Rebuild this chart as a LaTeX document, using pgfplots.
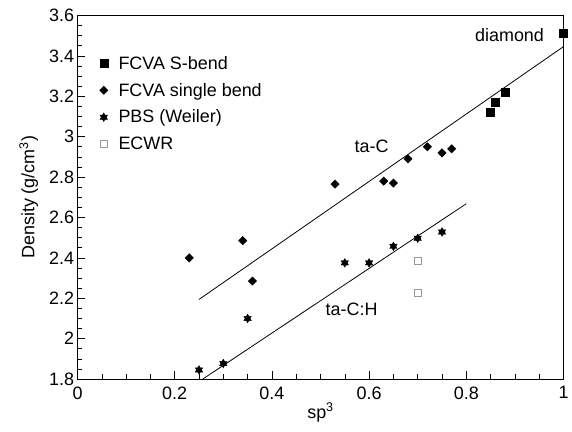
\documentclass[border=0pt]{standalone}
\usepackage{pgfplots}
\pgfplotsset{compat=1.18}
\usepackage{fontspec}
\setmainfont{Liberation Sans}
\pgfdeclareplotmark{hexstar}{%
 \pgfpathmoveto{\pgfqpointpolar{90}{\pgfplotmarksize}}%
 \pgfpathlineto{\pgfqpointpolar{210}{\pgfplotmarksize}}%
 \pgfpathlineto{\pgfqpointpolar{330}{\pgfplotmarksize}}%
 \pgfpathclose
 \pgfpathmoveto{\pgfqpointpolar{270}{\pgfplotmarksize}}%
 \pgfpathlineto{\pgfqpointpolar{30}{\pgfplotmarksize}}%
 \pgfpathlineto{\pgfqpointpolar{150}{\pgfplotmarksize}}%
 \pgfpathclose
 \pgfusepathqfillstroke}
\pgfdeclareplotmark{rdiamond}{%
 \pgfpathmoveto{\pgfqpoint{0pt}{\pgfplotmarksize}}%
 \pgfpathlineto{\pgfqpoint{\pgfplotmarksize}{0pt}}%
 \pgfpathlineto{\pgfqpoint{0pt}{-\pgfplotmarksize}}%
 \pgfpathlineto{\pgfqpoint{-\pgfplotmarksize}{0pt}}%
 \pgfpathclose
 \pgfusepathqfillstroke}
\begin{document}
\begin{tikzpicture}
\useasboundingbox (-77.5bp,-53bp) rectangle (494.5bp,379bp);
\begin{axis}[
  at={(0,0)}, anchor=south west,
  scale only axis, width=486bp, height=363.5bp,
  xmin=0, xmax=1, ymin=1.8, ymax=3.6,
  xtick={0,0.2,0.4,0.6,0.8,1},
  ytick={1.8,2,2.2,2.4,2.6,2.8,3,3.2,3.4,3.6},
  xticklabels={0,0.2,0.4,0.6,0.8,1},
  yticklabels={1.8,2,2.2,2.4,2.6,2.8,3,3.2,3.4,3.6},
  minor x tick num=3, minor y tick num=3,
  xtick pos=bottom, ytick pos=left,
  tick align=inside,
  major tick length=8bp, minor tick length=4.5bp,
  axis line style={black, line width=0.9pt},
  tick style={black, line width=0.6pt},
  tick label style={font=\fontsize{18}{20}\selectfont},
  xticklabel style={yshift=-4bp},
  /pgf/number format/assume math mode=true,
  xlabel={sp\textsuperscript{3}},
  ylabel={Density (g/cm\textsuperscript{3})},
  label style={font=\fontsize{18}{20}\selectfont},
  xlabel style={yshift=3bp},
  ylabel style={yshift=4bp},
  legend style={at={(axis description cs:0.03,0.9)}, anchor=north west, draw=none, fill=none,
    font=\fontsize{18}{20}\selectfont, row sep=8.5bp},
  legend image code/.code={\draw[#1] plot coordinates {(0.3cm,0cm)};
    \path[draw=none,fill=none] (0cm,0cm) -- (0.75cm,0cm);},
  legend cell align=left,
  clip=false,
]
\addplot[only marks, mark=square*, mark size=4bp, black] coordinates {
 (0.85,3.12) (0.86,3.17) (0.88,3.22) (1.0,3.51)};
\addlegendentry{FCVA S-bend}
\addplot[only marks, mark=rdiamond, mark size=4.2bp, black] coordinates {
 (0.23,2.40) (0.34,2.485) (0.36,2.285) (0.53,2.765) (0.63,2.78) (0.65,2.77)
 (0.68,2.89) (0.72,2.95) (0.75,2.92) (0.77,2.94)};
\addlegendentry{FCVA single bend}
\addplot[only marks, mark=hexstar, mark size=4.3bp, black] coordinates {
 (0.25,1.845) (0.30,1.877) (0.35,2.10) (0.55,2.375) (0.60,2.375)
 (0.65,2.457) (0.70,2.497) (0.75,2.528)};
\addlegendentry{PBS (Weiler)}
\addplot[only marks, mark=square, mark size=3.6bp, gray!80, mark options={line width=0.6pt}] coordinates {
 (0.70,2.385) (0.70,2.225)};
\addlegendentry{ECWR}
\addplot[black, line width=0.8pt, no marks, forget plot] coordinates {(0.25,2.194) (1.0,3.446)};
\addplot[black, line width=0.8pt, no marks, forget plot] coordinates {(0.258,1.80) (0.80,2.668)};
\node[font=\fontsize{18}{20}\selectfont] at (axis cs:0.889,3.503) {diamond};
\node[font=\fontsize{18}{20}\selectfont] at (axis cs:0.605,2.95) {ta-C};
\node[font=\fontsize{18}{20}\selectfont] at (axis cs:0.564,2.145) {ta-C:H};
\end{axis}
\end{tikzpicture}
\end{document}
